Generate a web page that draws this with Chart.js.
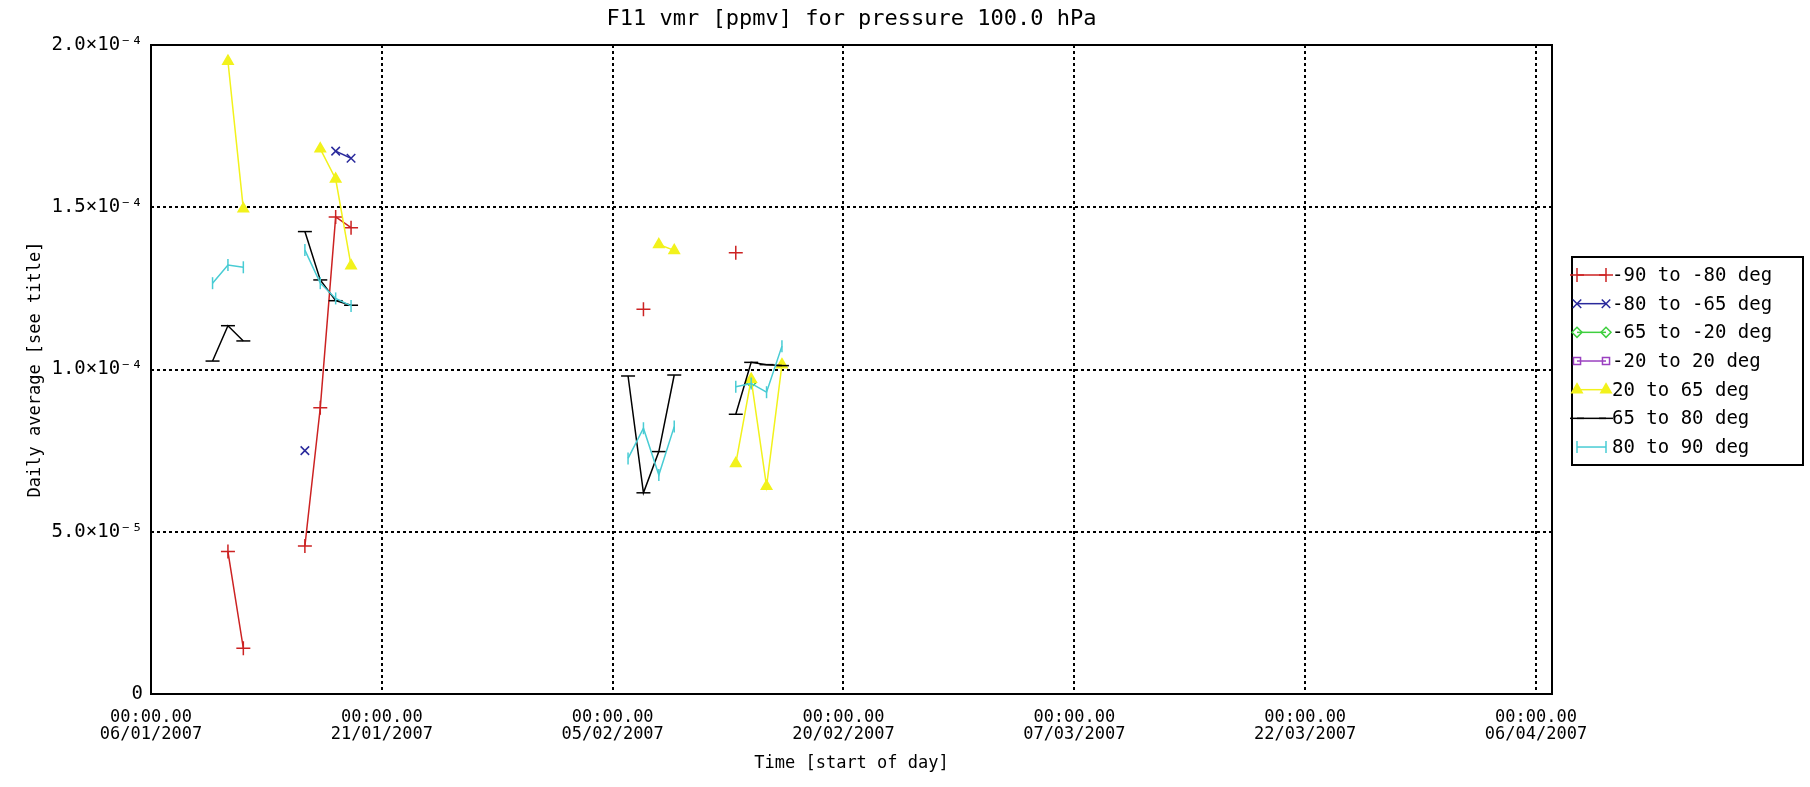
<!DOCTYPE html>
<html>
<head>
<meta charset="utf-8">
<title>F11 vmr</title>
<script src="https://cdn.jsdelivr.net/npm/chart.js@4.4.1/dist/chart.umd.min.js"></script>
<style>
  html, body { margin: 0; padding: 0; background: #fff; }
  canvas { display: block; }
</style>
</head>
<body>
<canvas id="chart" width="1810" height="787"></canvas>
<script>
// Axis ticks (x in days after 06/01/2007 00:00)
const tickDays = [0, 15, 30, 45, 60, 75, 90];
const tickDates = ["06/01/2007", "21/01/2007", "05/02/2007", "20/02/2007", "07/03/2007", "22/03/2007", "06/04/2007"];
const tickTime = "00:00.00";
const yTicks = [0, 5e-5, 1e-4, 1.5e-4, 2e-4];
const yTickLabels = ["0", "5.0×10⁻⁵", "1.0×10⁻⁴", "1.5×10⁻⁴", "2.0×10⁻⁴"];

// Series (day, daily average)
const labels = ["-90 to -80 deg", "-80 to -65 deg", "-65 to -20 deg", "-20 to 20 deg", "20 to 65 deg", "65 to 80 deg", "80 to 90 deg"];

const redDays = [5, 6, 10, 11, 12, 13, 32, 38];
const redVals = [4.39e-5, 1.41e-5, 4.56e-5, 8.82e-5, 1.47e-4, 1.437e-4, 1.186e-4, 1.36e-4];

const blueDays = [10, 12, 13];
const blueVals = [7.5e-5, 1.673e-4, 1.651e-4];

const greenDays = [39];
const greenVals = [9.6e-5];

const purpleDays = [];
const purpleVals = [];

const yellowDays = [5, 6, 11, 12, 13, 33, 34, 38, 39, 40, 41];
const yellowVals = [1.95e-4, 1.495e-4, 1.68e-4, 1.587e-4, 1.32e-4, 1.385e-4, 1.367e-4, 7.1e-5, 9.7e-5, 6.4e-5, 1.015e-4];

const blackDays = [4, 5, 6, 10, 11, 12, 13, 31, 32, 33, 34, 38, 39, 40, 41];
const blackVals = [1.026e-4, 1.135e-4, 1.088e-4, 1.425e-4, 1.276e-4, 1.212e-4, 1.198e-4, 9.8e-5, 6.2e-5, 7.47e-5, 9.83e-5, 8.62e-5, 1.022e-4, 1.015e-4, 1.012e-4];

const cyanDays = [4, 5, 6, 10, 11, 12, 13, 31, 32, 33, 34, 38, 39, 40, 41];
const cyanVals = [1.266e-4, 1.322e-4, 1.315e-4, 1.368e-4, 1.266e-4, 1.219e-4, 1.196e-4, 7.26e-5, 8.19e-5, 6.75e-5, 8.24e-5, 9.47e-5, 9.57e-5, 9.3e-5, 1.072e-4];

const FONT = "'DejaVu Sans Mono', monospace";

function pts(days, vals) {
  return days.map((d, i) => ({ x: d, y: vals[i] }));
}

function series(i, days, vals, color, style, extra) {
  return Object.assign({
    label: labels[i],
    data: pts(days, vals),
    borderColor: color,
    backgroundColor: color,
    borderWidth: 1.5,
    pointStyle: style,
    pointRadius: 6,
    pointBorderColor: color,
    pointBackgroundColor: "rgba(0,0,0,0)",
    pointBorderWidth: 1.5,
    tension: 0,
    order: 6 - i
  }, extra || {});
}

const datasets = [
  series(0, redDays, redVals, "#cc2222", "cross", { pointRadius: 7 }),
  series(1, blueDays, blueVals, "#2a2a9c", "crossRot"),
  series(2, greenDays, greenVals, "#3fcf3f", "rectRot", { pointRadius: 5 }),
  series(3, purpleDays, purpleVals, "#9a40c0", "rect", { pointRadius: 5 }),
  series(4, yellowDays, yellowVals, "#f2f21c", "triangle", { pointBackgroundColor: "#f2f21c" }),
  series(5, blackDays, blackVals, "#000000", "line", { pointRadius: 7 }),
  series(6, cyanDays, cyanVals, "#48ccd4", "line", { pointRotation: 90 })
];

// plot frame, main title and legend
const decor = {
  id: "decor",
  afterDatasetsDraw(chart) {
    const { ctx, chartArea: a } = chart;
    ctx.save();
    ctx.strokeStyle = "#000";
    ctx.lineWidth = 2;
    ctx.setLineDash([]);
    ctx.strokeRect(a.left, a.top, a.right - a.left, a.bottom - a.top);
    ctx.restore();
  },
  afterDraw(chart) {
    const { ctx, chartArea: a } = chart;
    ctx.save();
    ctx.fillStyle = "#000";
    ctx.font = "22px " + FONT;
    ctx.textAlign = "center";
    ctx.textBaseline = "middle";
    ctx.fillText("F11 vmr [ppmv] for pressure 100.0 hPa", (a.left + a.right) / 2, 19);

    // legend
    const bx = 1572, by = 257, bw = 231, bh = 208;
    ctx.strokeStyle = "#000";
    ctx.lineWidth = 2;
    ctx.strokeRect(bx, by, bw, bh);
    ctx.font = "19px " + FONT;
    ctx.textAlign = "left";
    chart.data.datasets.forEach((ds, i) => {
      const y = 275 + i * 28.67;
      const x1 = 1577, x2 = 1606;
      ctx.strokeStyle = ds.borderColor;
      ctx.lineWidth = ds.borderWidth;
      ctx.beginPath();
      ctx.moveTo(x1, y);
      ctx.lineTo(x2, y);
      ctx.stroke();
      const opts = { pointStyle: ds.pointStyle, rotation: ds.pointRotation || 0, radius: ds.pointRadius, borderWidth: ds.pointBorderWidth };
      ctx.fillStyle = ds.pointBackgroundColor;
      [x1, x2].forEach(x => Chart.helpers.drawPoint(ctx, opts, x, y));
      ctx.fillStyle = "#000";
      ctx.fillText(ds.label, 1612, y + 1);
    });
    ctx.restore();
  }
};

new Chart(document.getElementById("chart"), {
  type: "line",
  data: { datasets },
  plugins: [decor],
  options: {
    responsive: false,
    animation: false,
    devicePixelRatio: 1,
    spanGaps: 1.5,
    layout: { padding: { left: 0, right: 258, top: 45, bottom: 0 } },
    plugins: {
      legend: { display: false },
      title: { display: false },
      tooltip: { enabled: false }
    },
    scales: {
      x: {
        type: "linear",
        min: 0,
        max: 91.04,
        afterBuildTicks: s => { s.ticks = tickDays.map(v => ({ value: v })); },
        afterFit: s => { s.height = 93; },
        ticks: {
          color: "#000",
          font: { family: FONT, size: 17, lineHeight: 1.0 },
          padding: 15,
          maxRotation: 0,
          autoSkip: false,
          callback: (v) => [tickTime, tickDates[tickDays.indexOf(v)]]
        },
        grid: { color: "#000", lineWidth: 2, drawTicks: false },
        border: { display: false, dash: [3, 3] },
        title: {
          display: true,
          text: "Time [start of day]",
          color: "#000",
          font: { family: FONT, size: 17 },
          padding: { top: 0, bottom: 13 }
        }
      },
      y: {
        type: "linear",
        min: 0,
        max: 2e-4,
        afterBuildTicks: s => { s.ticks = yTicks.map(v => ({ value: v })); },
        afterFit: s => { s.width = 151; },
        ticks: {
          color: "#000",
          font: { family: FONT, size: 19 },
          padding: 8,
          callback: (v) => yTickLabels[yTicks.indexOf(v)]
        },
        grid: { color: "#000", lineWidth: 2, drawTicks: false },
        border: { display: false, dash: [3, 3] },
        title: {
          display: true,
          text: "Daily average [see title]",
          color: "#000",
          font: { family: FONT, size: 17 },
          padding: { top: 25, bottom: 0 }
        }
      }
    }
  }
});
</script>
</body>
</html>
